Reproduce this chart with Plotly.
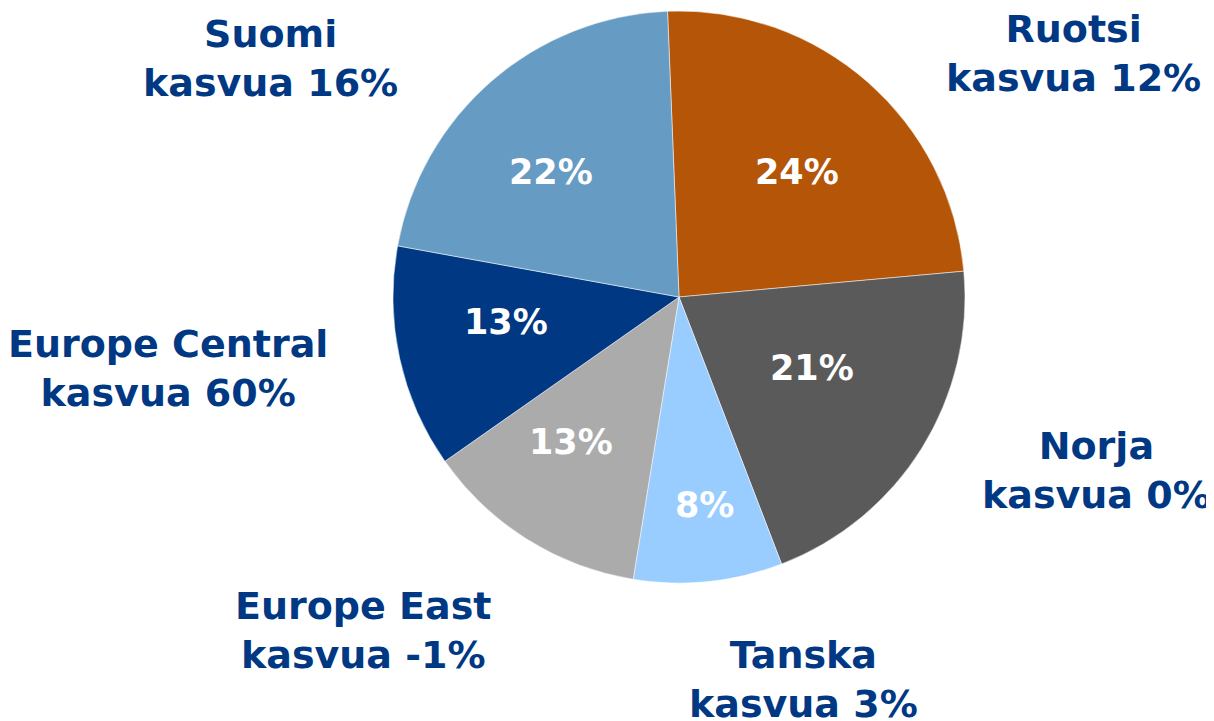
import plotly.graph_objects as go

# Data
categories = ["Ruotsi", "Norja", "Tanska", "Europe East", "Europe Central", "Suomi"]
shares = [24.2, 20.6, 8.4, 12.7, 12.6, 21.5]
share_labels = ["24%", "21%", "8%", "13%", "13%", "22%"]
growth_labels = ["kasvua 12%", "kasvua 0%", "kasvua 3%", "kasvua -1%", "kasvua 60%", "kasvua 16%"]

colors = ["#B45507", "#5A5A5A", "#99CCFF", "#ABABAB", "#003883", "#669BC3"]
TEXT_BLUE = "#003883"
W, H = 1214, 721
OFF = 8  # page body margin compensation

# label block centres in pixels (layout only)
outer_pos = [(1073, 54), (1096, 470), (803, 679), (363, 630), (168, 368), (270, 59)]
inner_pos = [(797, 172), (812, 368), (704, 505), (571, 442), (506, 322), (551, 172)]

fig = go.Figure(go.Pie(
    labels=categories,
    values=shares,
    textinfo="none",
    marker=dict(colors=colors, line=dict(color="white", width=0.5)),
    sort=False,
    direction="clockwise",
    rotation=-2.3,
    hoverinfo="skip",
    showlegend=False,
    domain=dict(x=[(393 - OFF) / W, (965 - OFF) / W],
                y=[1 - (583 - OFF) / H, 1 - (11 - OFF) / H]),
))

annotations = []
for name, growth, (px, py) in zip(categories, growth_labels, outer_pos):
    annotations.append(dict(
        x=(px - OFF) / W, y=1 - (py - OFF) / H, xref="paper", yref="paper",
        xanchor="center", yanchor="middle",
        text=f"{name}<br>{growth}", showarrow=False, align="center",
        font=dict(family="DejaVu Sans", size=38, color=TEXT_BLUE, weight="bold"),
    ))
for lab, (px, py) in zip(share_labels, inner_pos):
    annotations.append(dict(
        x=(px - OFF) / W, y=1 - (py - OFF) / H, xref="paper", yref="paper",
        xanchor="center", yanchor="middle",
        text=lab, showarrow=False,
        font=dict(family="DejaVu Sans", size=35, color="white", weight="bold"),
    ))

fig.update_layout(
    width=W, height=H,
    margin=dict(l=0, r=0, t=0, b=0),
    paper_bgcolor="white", plot_bgcolor="white",
    annotations=annotations,
)

fig.write_html("out.html")
